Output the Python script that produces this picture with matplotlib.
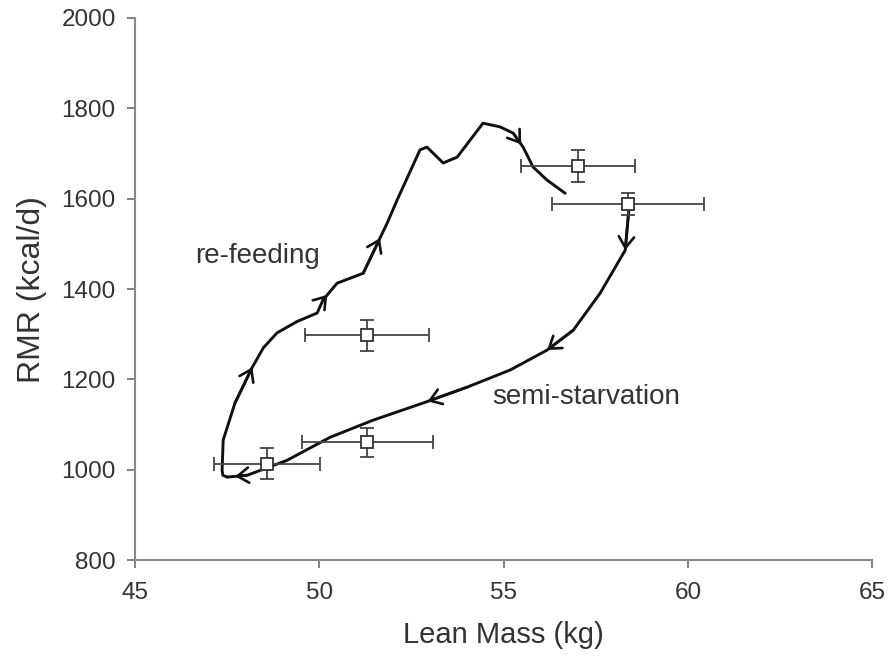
import matplotlib
matplotlib.use("Agg")
import matplotlib.pyplot as plt
import numpy as np

plt.rcParams['font.family'] = ['Liberation Sans', 'DejaVu Sans']

# Group means with error bars
pt_x = [48.58, 51.30, 51.30, 57.02, 58.38]
pt_y = [1014, 1061, 1298, 1672, 1588]
pt_xerr = [1.43, 1.78, 1.68, 1.55, 2.07]
pt_yerr = [34, 32, 34, 36, 25]

# Semi-starvation trajectory
semi_x = [58.41, 58.30, 57.62, 56.89, 56.18, 55.18, 54.01, 52.82, 51.46, 50.29, 49.12, 48.04, 47.50]
semi_y = [1586, 1486, 1391, 1309, 1265, 1221, 1183, 1148, 1110, 1072, 1021, 988, 984]

# Re-feeding trajectory
refeed_x = [47.50, 47.38, 47.36, 47.39, 47.71, 48.18, 48.48, 48.85, 49.39, 49.94, 50.10, 50.48, 51.19,
            51.84, 52.11, 52.73, 52.92, 53.36, 53.74, 54.44, 54.90, 55.26, 55.53, 55.80, 56.18, 56.67]
refeed_y = [984, 988, 999, 1066, 1148, 1227, 1270, 1303, 1328, 1347, 1376, 1413, 1435,
            1546, 1597, 1708, 1714, 1679, 1692, 1767, 1759, 1745, 1714, 1670, 1641, 1612]

# arrow positions: (segment end index, fraction along segment)
semi_arrows = [(1, 1.0), (4, 1.0), (7, 0.9), (12, 0.6)]
refeed_arrows = [(5, 1.0), (11, 0.3), (13, 0.7), (22, 0.8)]

fig = plt.figure(figsize=(8.89, 6.63), dpi=100)
ax = fig.add_axes([0.152, 0.155, 0.829, 0.818])

line_col = '#111111'
for xs, ys, arrows in [(semi_x, semi_y, semi_arrows), (refeed_x, refeed_y, refeed_arrows)]:
    ax.plot(xs, ys, color=line_col, lw=2.1, solid_capstyle='round', solid_joinstyle='round', zorder=3)
    for i, t in arrows:
        x0, y0 = xs[i - 1], ys[i - 1]
        x1, y1 = xs[i], ys[i]
        tx = x0 + t * (x1 - x0)
        ty = y0 + t * (y1 - y0)
        ax.annotate('', xy=(tx, ty), xytext=(x0, y0),
                    arrowprops=dict(arrowstyle='->,head_length=0.8,head_width=0.55',
                                    color=line_col, lw=1.9, shrinkA=0, shrinkB=0),
                    zorder=4)

ax.errorbar(pt_x, pt_y, xerr=pt_xerr, yerr=pt_yerr, fmt='s', ms=8,
            mfc='white', mec='#333333', mew=1.3, ecolor='#444444', elinewidth=1.3,
            capsize=5, capthick=1.3, zorder=5)

ax.text(48.31, 1473, 're-feeding', fontsize=20, color='#333333', ha='center', va='center')
ax.text(57.24, 1161, 'semi-starvation', fontsize=20, color='#333333', ha='center', va='center')

ax.set_xlim(45, 65)
ax.set_ylim(800, 2000)
ax.set_xticks([45, 50, 55, 60, 65])
ax.set_yticks([800, 1000, 1200, 1400, 1600, 1800, 2000])
for s in ['top', 'right']:
    ax.spines[s].set_visible(False)
for s in ['left', 'bottom']:
    ax.spines[s].set_color('#888888')
    ax.spines[s].set_linewidth(1.5)
ax.tick_params(axis='both', direction='out', length=6, width=1.3, color='#777777',
               labelsize=17.5, labelcolor='#333333')
ax.tick_params(axis='x', pad=10)
ax.tick_params(axis='y', pad=8)
ax.set_xlabel('Lean Mass (kg)', fontsize=21, color='#333333', labelpad=12)
ax.set_ylabel('RMR (kcal/d)', fontsize=23, color='#333333', labelpad=10)

fig.savefig('out.png', dpi=100)
